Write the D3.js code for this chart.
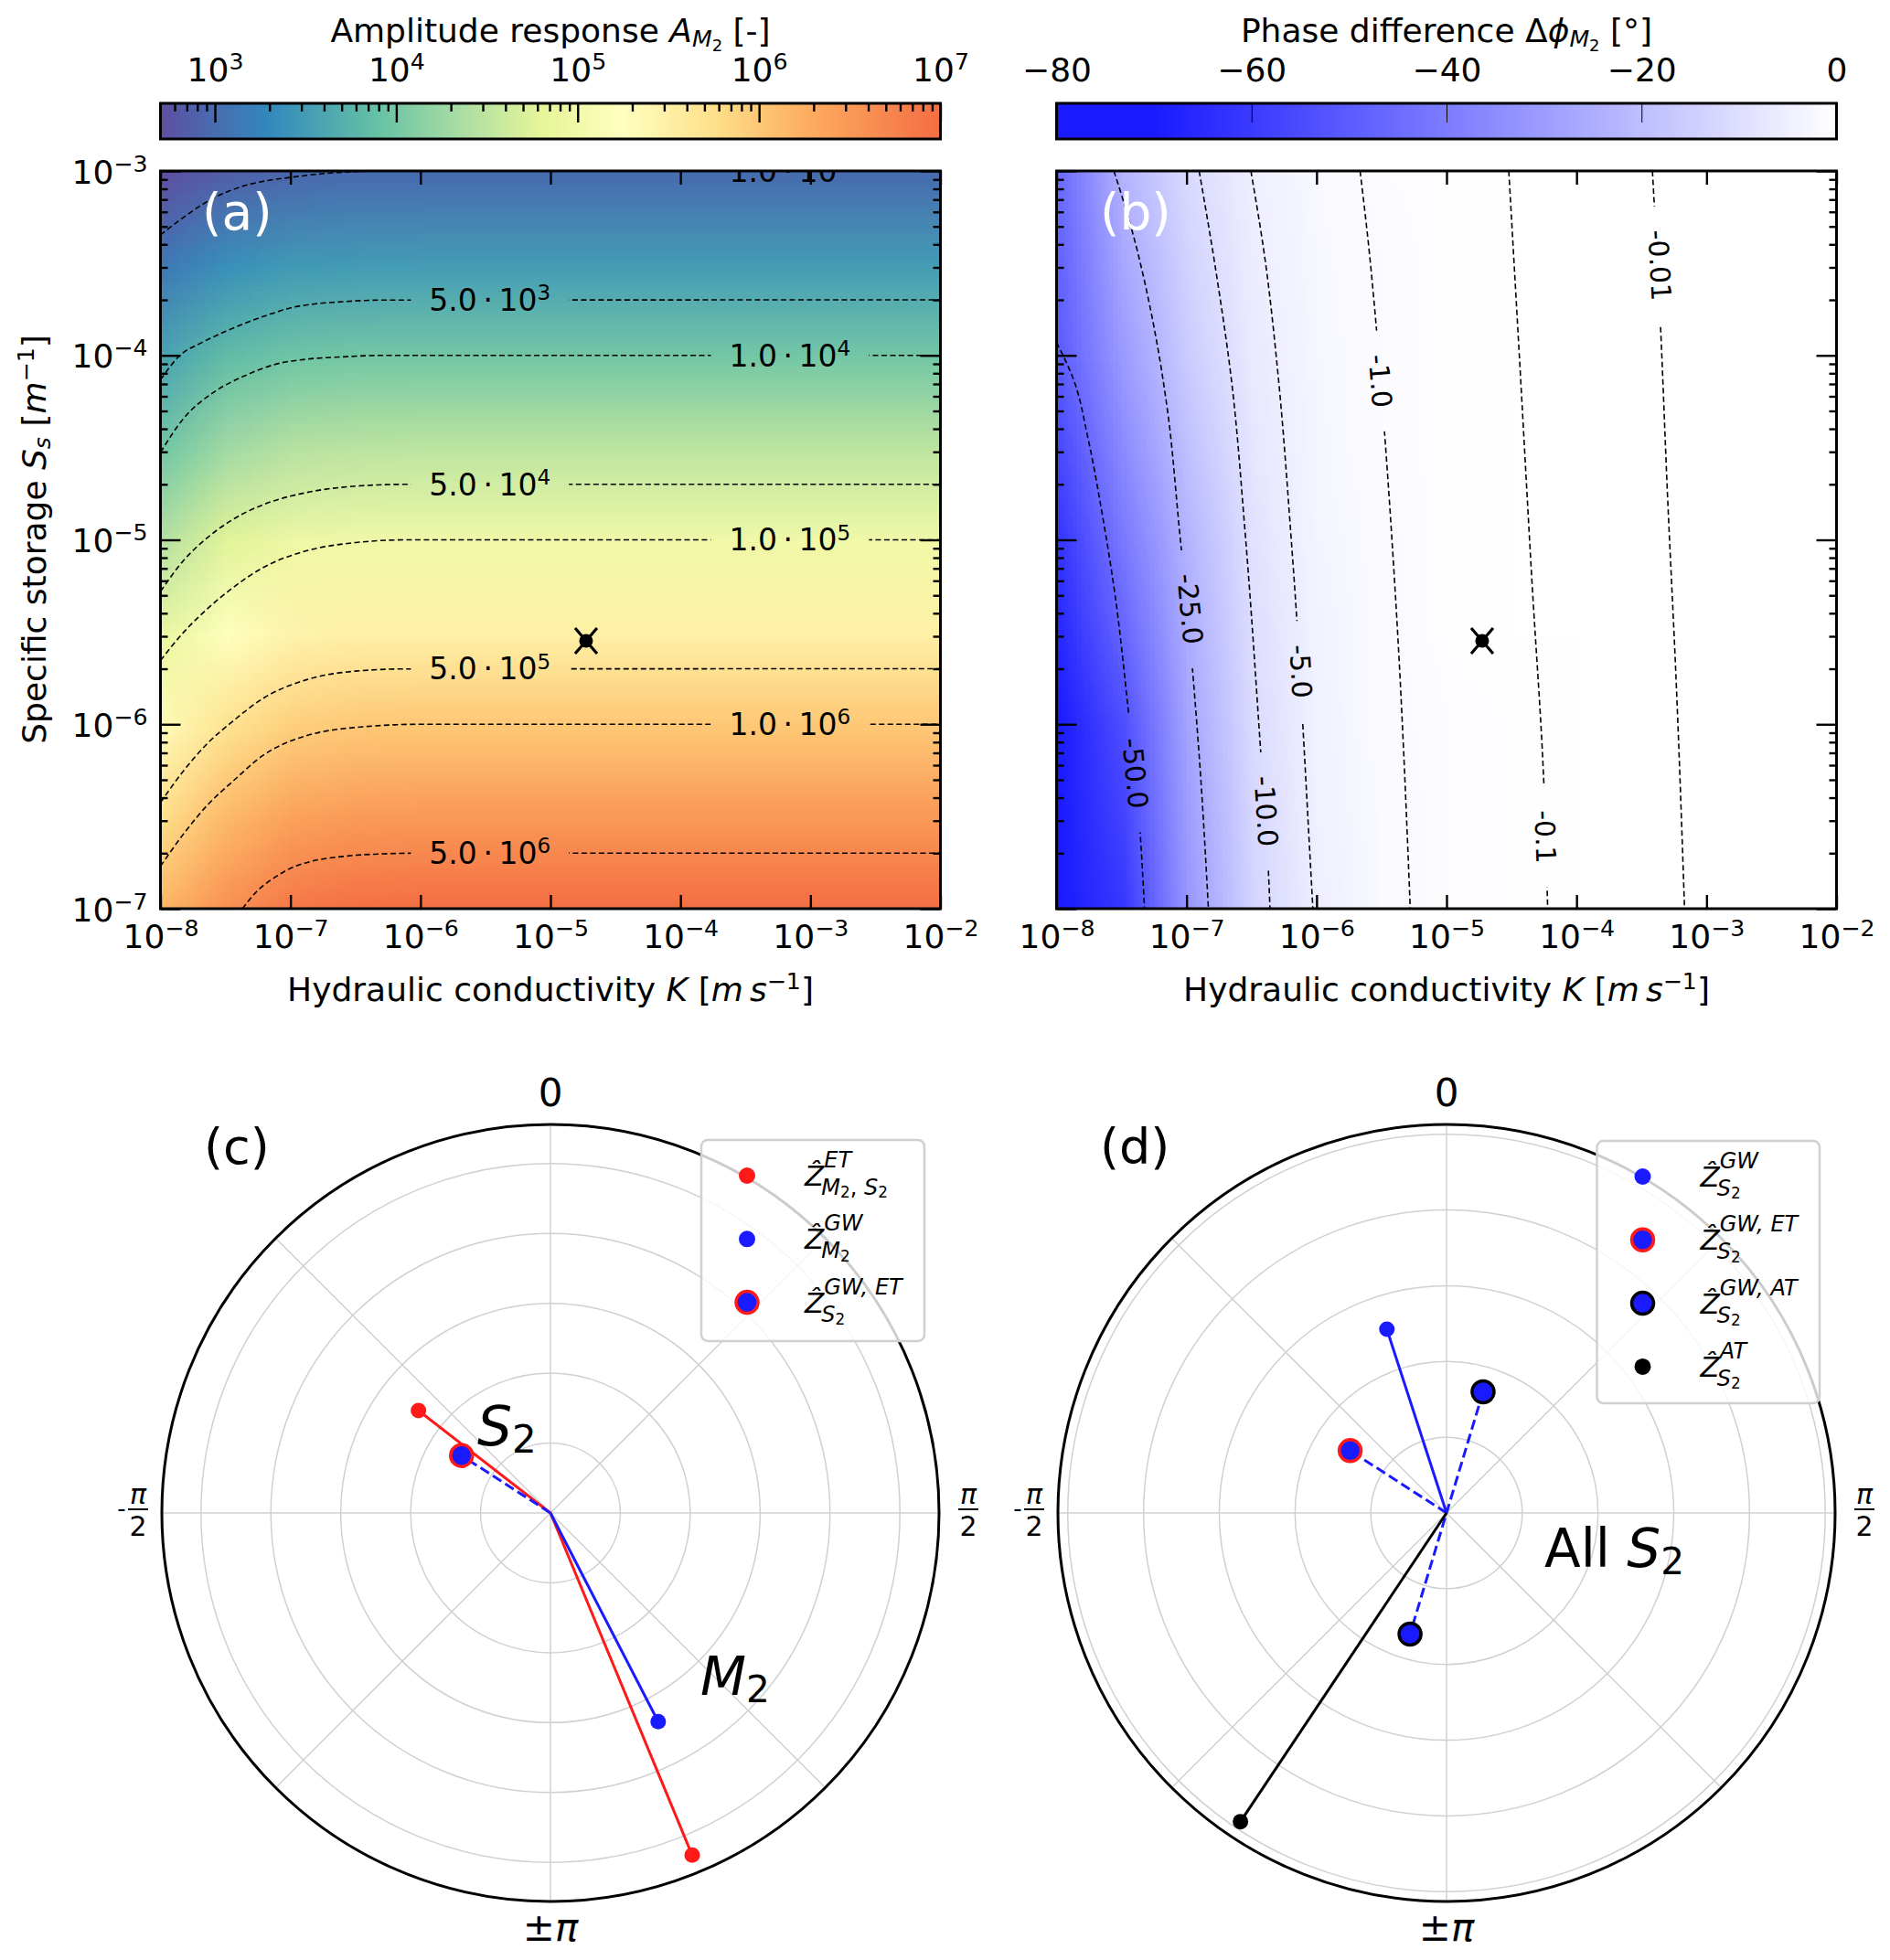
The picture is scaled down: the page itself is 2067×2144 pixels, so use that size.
<!DOCTYPE html>
<html>
<head>
<meta charset="utf-8">
<script src="https://cdn.jsdelivr.net/npm/d3@7"></script>
<style>
  body { margin: 0; background: #fff; }
  svg text { font-family: "DejaVu Sans", sans-serif; white-space: pre; }
</style>
</head>
<body>
<svg id="fig" width="2067" height="2144"></svg>
<script>
const W = 2067, H = 2144
const FS = 36

// ---- map grids (log10 K across, log10 Ss down) ----
const logK = [-8, -7.5, -7, -6.5, -6, -5.5, -5, -4.5, -4, -3.5, -3, -2.5, -2]
const logS = [-3, -3.5, -4, -4.5, -5, -5.5, -6, -6.5, -7]

// log10 of amplitude response, one row per logS value
const logAmp = [
  [2.67, 2.88, 2.965, 2.995, 3.0, 3.0, 3.0, 3.0, 3.0, 3.0, 3.0, 3.0, 3.0],
  [3.13, 3.37, 3.465, 3.495, 3.5, 3.5, 3.5, 3.5, 3.5, 3.5, 3.5, 3.5, 3.5],
  [3.57, 3.85, 3.965, 3.995, 4.0, 4.0, 4.0, 4.0, 4.0, 4.0, 4.0, 4.0, 4.0],
  [3.98, 4.31, 4.46, 4.495, 4.5, 4.5, 4.5, 4.5, 4.5, 4.5, 4.5, 4.5, 4.5],
  [4.44, 4.78, 4.95, 4.992, 5.0, 5.0, 5.0, 5.0, 5.0, 5.0, 5.0, 5.0, 5.0],
  [4.88, 5.24, 5.44, 5.49, 5.5, 5.5, 5.5, 5.5, 5.5, 5.5, 5.5, 5.5, 5.5],
  [5.32, 5.70, 5.92, 5.985, 6.0, 6.0, 6.0, 6.0, 6.0, 6.0, 6.0, 6.0, 6.0],
  [5.77, 6.15, 6.40, 6.48, 6.5, 6.5, 6.5, 6.5, 6.5, 6.5, 6.5, 6.5, 6.5],
  [6.20, 6.60, 6.88, 6.975, 7.0, 7.0, 7.0, 7.0, 7.0, 7.0, 7.0, 7.0, 7.0]
]

// phase difference in degrees, same grid
const phase = [
  [-46, -23, -11.4, -4.97, -1.90, -0.72, -0.26, -0.096, -0.034, -0.012, -0.004, -0.0015, -0.0005],
  [-48, -27, -13.5, -5.6, -2.15, -0.83, -0.29, -0.10, -0.036, -0.013, -0.0045, -0.0016, -0.0006],
  [-50, -30.7, -15.7, -6.4, -2.45, -0.95, -0.32, -0.107, -0.038, -0.014, -0.005, -0.0018, -0.0006],
  [-56, -35.5, -19, -7.6, -2.8, -1.05, -0.355, -0.12, -0.041, -0.0145, -0.005, -0.0018, -0.0007],
  [-62, -41, -22.9, -8.9, -3.19, -1.17, -0.39, -0.13, -0.044, -0.015, -0.005, -0.0019, -0.0007],
  [-66, -47, -25.2, -10, -3.6, -1.27, -0.43, -0.143, -0.048, -0.0165, -0.0055, -0.002, -0.0007],
  [-70, -54, -27.5, -11.1, -4.0, -1.36, -0.46, -0.155, -0.052, -0.018, -0.006, -0.002, -0.0008],
  [-73, -57.5, -29.5, -12.1, -4.4, -1.5, -0.5, -0.168, -0.056, -0.0195, -0.0065, -0.0023, -0.0008],
  [-76, -61, -31.6, -13.1, -4.83, -1.62, -0.54, -0.18, -0.061, -0.021, -0.007, -0.0025, -0.0009]
]

// contour lines, points as [log10 K, log10 Ss]
const ampLevels = [1e3, 5e3, 1e4, 5e4, 1e5, 5e5, 1e6, 5e6]
const ampContours = [
  [[-8, -3.347], [-7.8, -3.24], [-7.6, -3.15], [-7.4, -3.09], [-7.2, -3.055], [-7, -3.035], [-6.8, -3.018], [-6.6, -3.007], [-6.3, -3.0], [-2, -3.0]],
  [[-8, -4.132], [-7.85, -4.0], [-7.68, -3.93], [-7.5, -3.87], [-7.35, -3.826], [-7.15, -3.775], [-6.97, -3.738], [-6.8, -3.72], [-6.64, -3.711], [-6.3, -3.7], [-2, -3.699]],
  [[-8, -4.526], [-7.82, -4.34], [-7.586, -4.198], [-7.35, -4.11], [-7.115, -4.048], [-6.88, -4.021], [-6.6, -4.008], [-6.3, -4.0], [-2, -4.0]],
  [[-8, -5.28], [-7.82, -5.11], [-7.633, -4.985], [-7.444, -4.89], [-7.209, -4.809], [-6.879, -4.744], [-6.5, -4.709], [-6.1, -4.699], [-2, -4.699]],
  [[-8, -5.654], [-7.82, -5.50], [-7.633, -5.37], [-7.444, -5.26], [-7.209, -5.15], [-6.879, -5.06], [-6.5, -5.015], [-6.1, -5.0], [-2, -5.0]],
  [[-8, -6.425], [-7.82, -6.25], [-7.633, -6.10], [-7.444, -5.984], [-7.209, -5.859], [-6.879, -5.759], [-6.5, -5.712], [-6.1, -5.7], [-2, -5.699]],
  [[-8, -6.77], [-7.821, -6.593], [-7.633, -6.434], [-7.444, -6.31], [-7.209, -6.168], [-6.879, -6.062], [-6.408, -6.012], [-6.0, -6.0], [-2, -6.0]],
  [[-7.37, -7.0], [-7.25, -6.9], [-7.12, -6.83], [-7.02, -6.788], [-6.85, -6.745], [-6.6, -6.717], [-6.3, -6.703], [-6, -6.699], [-2, -6.699]]
]
const ampLabelPos = [[-3.158, -3.0], [-5.466, -3.699], [-3.158, -4.0], [-5.466, -4.699],
  [-3.158, -5.0], [-5.466, -5.699], [-3.158, -6.0], [-5.466, -6.699]]

const phaseLevels = [-50, -25, -10, -5, -1, -0.1, -0.01]
const phaseContours = [
  [[-8, -3.93], [-7.875, -4.12], [-7.758, -4.45], [-7.652, -4.847], [-7.55, -5.3], [-7.453, -5.894], [-7.359, -6.571], [-7.324, -7.0]],
  [[-7.559, -3.0], [-7.43, -3.296], [-7.266, -3.79], [-7.149, -4.286], [-7.055, -4.946], [-6.957, -5.68], [-6.89, -6.3], [-6.832, -7.0]],
  [[-6.903, -3.0], [-6.774, -3.543], [-6.657, -4.12], [-6.551, -4.946], [-6.435, -6.092], [-6.372, -6.769], [-6.358, -7.0]],
  [[-6.505, -3.0], [-6.4, -3.46], [-6.294, -4.12], [-6.2, -4.946], [-6.154, -5.407], [-6.107, -5.985], [-6.03, -6.975], [-6.028, -7.0]],
  [[-5.665, -3.0], [-5.6, -3.4], [-5.543, -3.824], [-5.478, -4.407], [-5.379, -5.47], [-5.279, -7.0]],
  [[-4.521, -3.0], [-4.44, -4.0], [-4.345, -5.2], [-4.252, -6.31], [-4.222, -7.0]],
  [[-3.416, -3.0], [-3.355, -3.824], [-3.30, -4.76], [-3.234, -5.757], [-3.169, -7.0]]
]
const phaseLabelPos = [[-7.394, -6.266], [-6.972, -5.375], [-6.387, -6.472], [-6.12, -5.713],
  [-5.509, -4.139], [-4.239, -6.61], [-3.36, -3.512]]

const site = [-4.726, -5.548]

// colour maps and colourbar ticks
const ampStops = [2.70, 3.29, 3.9, 4.36, 4.8, 5.25, 5.75, 6.25, 7.0]
const ampColors = ['#5e4fa2', '#3288bd', '#66c2a5', '#abdda4', '#e6f598', '#ffffbf', '#fee08b', '#fdae61', '#f46d43']
const phaseStops = [-80, -70, 0]
const phaseColors = ['#1a1aff', '#1a1aff', '#ffffff']
const cbAmpTicks = [1e3, 1e4, 1e5, 1e6, 1e7]
const cbPhaseTicks = [-80, -60, -40, -20, 0]
const kTicks = [1e-8, 1e-7, 1e-6, 1e-5, 1e-4, 1e-3, 1e-2]
const sTicks = [1e-7, 1e-6, 1e-5, 1e-4, 1e-3]

// phasors, [theta (rad, clockwise from top), amplitude]
const polarRings = [1, 2, 3, 4, 5]
const rmaxC = 5.56, rmaxD = 5.13
const etS2 = [-0.911, 2.39]
const etM2 = [2.749, 5.30]
const gwM2 = [2.665, 3.36]
const gwEtS2 = [-0.997, 1.515]
const gwS2 = [-0.314, 2.55]
const gwAtS2 = [[0.293, 1.67], [-2.849, 1.67]]
const atS2 = [-2.553, 4.90]

const RED = '#ff1a1a', BLUE = '#1a1aff'

// ---------- helpers ----------
const fig = d3.select('#fig')
const defs = fig.append('defs')

const lvOff = { '0': 0, '1': -0.36, '-1': 0.14, '-2': 0.28 }
const lvSize = { '0': 1, '1': 0.7, '-1': 0.7, '-2': 0.5 }
const mtext = (t, parts, size) => {
  let cur = 0
  parts.forEach(p => {
    const lv = p.l || 0
    const off = lvOff[lv] * size
    t.append('tspan').attr('dy', off - cur).attr('font-size', size * lvSize[lv])
      .attr('font-style', p.i ? 'italic' : null).text(p.t)
    cur = off
  })
  return t
}
const pow10 = (sel, size) => sel.each(function (d) {
  const e = Math.round(Math.log10(d))
  const t = d3.select(this).text(null).attr('font-size', size)
  mtext(t, [{ t: '10' }, { t: (e < 0 ? '\u2212' : '') + Math.abs(e), l: 1 }], size)
})
const clean = g => g.attr('font-size', null).attr('font-family', null).call(s => s.select('.domain').remove())

const boxA = { left: 175.5, top: 187, width: 853, height: 807 }
const boxB = { left: 1155.5, top: 187, width: 853, height: 807 }

const makeScales = box => ({
  x: d3.scaleLog().domain([1e-8, 1e-2]).range([box.left, box.left + box.width]),
  y: d3.scaleLog().domain([1e-3, 1e-7]).range([box.top, box.top + box.height])
})

const drawField = (box, sc, grid, color) => {
  const nx = logK.length, ny = logS.length
  const small = document.createElement('canvas')
  small.width = nx; small.height = ny
  const sctx = small.getContext('2d')
  const img = sctx.createImageData(nx, ny)
  grid.forEach((row, j) => row.forEach((v, i) => {
    const c = d3.rgb(color(v)), k = 4 * (j * nx + i)
    img.data[k] = c.r; img.data[k + 1] = c.g; img.data[k + 2] = c.b; img.data[k + 3] = 255
  }))
  sctx.putImageData(img, 0, 0)
  const big = document.createElement('canvas')
  big.width = Math.round(box.width); big.height = Math.round(box.height)
  const bctx = big.getContext('2d')
  bctx.imageSmoothingEnabled = true
  const x0 = sc.x(10 ** logK[0]) - box.left, x1 = sc.x(10 ** logK[nx - 1]) - box.left
  const y0 = sc.y(10 ** logS[0]) - box.top, y1 = sc.y(10 ** logS[ny - 1]) - box.top
  const cw = (x1 - x0) / (nx - 1), ch = (y1 - y0) / (ny - 1)
  bctx.drawImage(small, 0, 0, nx, ny, x0 - cw / 2, y0 - ch / 2, cw * nx, ch * ny)
  fig.append('image').attr('x', box.left).attr('y', box.top)
    .attr('width', box.width).attr('height', box.height)
    .attr('preserveAspectRatio', 'none').attr('href', big.toDataURL())
}

const drawContours = (id, box, sc, contours, curve, labels) => {
  defs.append('clipPath').attr('id', 'clip' + id).append('rect')
    .attr('x', box.left).attr('y', box.top).attr('width', box.width).attr('height', box.height)
  const mask = defs.append('mask').attr('id', 'mask' + id).attr('maskUnits', 'userSpaceOnUse')
    .attr('x', 0).attr('y', 0).attr('width', W).attr('height', H)
  mask.append('rect').attr('width', W).attr('height', H).attr('fill', '#fff')
  const layer = fig.append('g').attr('clip-path', `url(#clip${id})`)
  const lines = layer.append('g').attr('mask', `url(#mask${id})`)
  const line = d3.line().x(d => sc.x(10 ** d[0])).y(d => sc.y(10 ** d[1])).curve(curve)
  contours.forEach(c => lines.append('path').attr('d', line(c)).attr('fill', 'none')
    .attr('stroke', '#000').attr('stroke-width', 1.6).attr('stroke-dasharray', '6,3.5'))
  labels.forEach(lab => {
    const px = sc.x(10 ** lab.pos[0]), py = sc.y(10 ** lab.pos[1])
    const tr = `translate(${px},${py}) rotate(${lab.rot})`
    const t = layer.append('g').attr('transform', tr).append('text')
      .attr('text-anchor', 'middle').attr('y', 0.36 * lab.size).attr('font-size', lab.size)
    mtext(t, lab.parts, lab.size)
    const bb = t.node().getBBox()
    mask.append('rect').attr('transform', tr).attr('fill', '#000')
      .attr('x', bb.x - lab.pad).attr('y', bb.y - 4).attr('width', bb.width + 2 * lab.pad).attr('height', bb.height + 8)
  })
}

const drawSite = sc => {
  const px = sc.x(10 ** site[0]), py = sc.y(10 ** site[1])
  const g = fig.append('g').attr('stroke', '#000').attr('stroke-width', 3.2)
  g.append('line').attr('x1', px - 12).attr('y1', py - 14).attr('x2', px + 12).attr('y2', py + 14)
  g.append('line').attr('x1', px - 12).attr('y1', py + 14).attr('x2', px + 12).attr('y2', py - 14)
  fig.append('circle').attr('cx', px).attr('cy', py).attr('r', 7.5).attr('fill', '#000')
}

const drawAxes = (box, sc, yLabels) => {
  const bottom = box.top + box.height, right = box.left + box.width
  const minor = []
  sTicks.slice(0, -1).forEach(v => d3.range(2, 10).forEach(m => minor.push(v * m)))

  const gx = fig.append('g').attr('transform', `translate(0,${bottom})`)
    .call(d3.axisBottom(sc.x).tickValues(kTicks).tickSize(-15).tickFormat(() => '')).call(clean)
  gx.selectAll('.tick text').attr('y', 43).attr('dy', null).call(pow10, FS)
  fig.append('g').attr('transform', `translate(0,${box.top})`)
    .call(d3.axisTop(sc.x).tickValues(kTicks).tickSize(-15).tickFormat(() => '')).call(clean)
    .selectAll('.tick text').remove()

  const gy = fig.append('g').attr('transform', `translate(${box.left},0)`)
    .call(d3.axisLeft(sc.y).tickValues(sTicks).tickSize(-22).tickFormat(() => '')).call(clean)
  if (yLabels) gy.selectAll('.tick text').attr('x', -14).attr('dy', null).attr('y', 13).call(pow10, FS)
  else gy.selectAll('.tick text').remove()
  fig.append('g').attr('transform', `translate(${box.left},0)`)
    .call(d3.axisLeft(sc.y).tickValues(minor).tickSize(-8).tickFormat(() => '')).call(clean)
    .selectAll('.tick text').remove()
  fig.append('g').attr('transform', `translate(${right},0)`)
    .call(d3.axisRight(sc.y).tickValues(sTicks).tickSize(-22).tickFormat(() => '')).call(clean)
    .selectAll('.tick text').remove()
  fig.append('g').attr('transform', `translate(${right},0)`)
    .call(d3.axisRight(sc.y).tickValues(minor).tickSize(-8).tickFormat(() => '')).call(clean)
    .selectAll('.tick text').remove()
  fig.selectAll('.tick line').attr('stroke-width', 2.4)

  fig.append('rect').attr('x', box.left).attr('y', box.top).attr('width', box.width).attr('height', box.height)
    .attr('fill', 'none').attr('stroke', '#000').attr('stroke-width', 3)

  mtext(fig.append('text').attr('x', box.left + box.width / 2).attr('y', 1095).attr('text-anchor', 'middle'),
    [{ t: 'Hydraulic conductivity ' }, { t: 'K', i: 1 }, { t: ' [' }, { t: 'm', i: 1 }, { t: '\u2009' },
     { t: 's', i: 1 }, { t: '\u22121', l: 1 }, { t: ']' }], FS).attr('font-size', FS)
}

const drawColorbar = (id, box, stops, colors, title) => {
  const top = 113, h = 39
  const grad = defs.append('linearGradient').attr('id', 'grad' + id)
    .attr('gradientUnits', 'userSpaceOnUse').attr('x1', box.left).attr('x2', box.left + box.width).attr('y1', 0).attr('y2', 0)
  const lo = stops[0], hi = stops[stops.length - 1]
  stops.forEach((s, i) => grad.append('stop').attr('offset', (s - lo) / (hi - lo)).attr('stop-color', colors[i]))
  fig.append('rect').attr('x', box.left).attr('y', top).attr('width', box.width).attr('height', h)
    .attr('fill', `url(#grad${id})`).attr('stroke', '#000').attr('stroke-width', 3)
  const t = fig.append('text').attr('x', box.left + box.width / 2).attr('y', 46).attr('text-anchor', 'middle').attr('font-size', FS)
  mtext(t, title, FS)
  return top
}

// ---------- panel (a) ----------
const scA = makeScales(boxA)
const ampColor = d3.scaleLinear().domain(ampStops).range(ampColors).clamp(true)
drawField(boxA, scA, logAmp, ampColor)
drawContours('a', boxA, scA, ampContours, d3.curveMonotoneX, ampLevels.map((v, i) => {
  const e = Math.floor(Math.log10(v))
  return { pos: ampLabelPos[i], rot: 0, size: 33, pad: 20,
    parts: [{ t: (v / 10 ** e).toFixed(1) + '\u2009\u00b7\u200910' }, { t: String(e), l: 1 }] }
}))
drawSite(scA)
drawAxes(boxA, scA, true)
fig.append('text').attr('x', 221).attr('y', 251).attr('font-size', 55).attr('fill', '#fff').text('(a)')

// colourbar (a)
const cbA = d3.scaleLog().domain([10 ** ampStops[0], 10 ** ampStops[ampStops.length - 1]]).range([boxA.left, boxA.left + boxA.width])
const cbTop = drawColorbar('a', boxA, ampStops, ampColors,
  [{ t: 'Amplitude response ' }, { t: 'A', i: 1 }, { t: 'M', i: 1, l: -1 }, { t: '2', l: -2 }, { t: ' [-]' }])
const cbMinor = []
d3.range(2, 7).forEach(e => d3.range(2, 10).forEach(m => { const v = m * 10 ** e; if (v > cbA.domain()[0]) cbMinor.push(v) }))
fig.append('g').attr('transform', `translate(0,${cbTop})`)
  .call(d3.axisTop(cbA).tickValues(cbMinor).tickSize(-9).tickFormat(() => '')).call(clean)
  .selectAll('.tick text').remove()
fig.append('g').attr('transform', `translate(0,${cbTop})`)
  .call(d3.axisTop(cbA).tickValues(cbAmpTicks).tickSize(-21).tickFormat(() => '')).call(clean)
  .selectAll('.tick text').attr('y', -24).attr('dy', null).call(pow10, FS)

// ---------- panel (b) ----------
const scB = makeScales(boxB)
const phaseColor = d3.scaleLinear().domain(phaseStops).range(phaseColors).clamp(true)
drawField(boxB, scB, phase, phaseColor)
const segAngle = (c, s) => {
  let k = 0
  while (k < c.length - 2 && c[k + 1][1] > s) k++
  const a = c[k], b = c[k + 1]
  const dx = scB.x(10 ** b[0]) - scB.x(10 ** a[0]), dy = scB.y(10 ** b[1]) - scB.y(10 ** a[1])
  return Math.atan2(dy, dx) * 180 / Math.PI
}
drawContours('b', boxB, scB, phaseContours, d3.curveMonotoneY, phaseLevels.map((v, i) => ({
  pos: phaseLabelPos[i], rot: segAngle(phaseContours[i], phaseLabelPos[i][1]), size: 30, pad: 26,
  parts: [{ t: Math.abs(v) >= 1 ? v.toFixed(1) : String(v) }]
})))
drawSite(scB)
drawAxes(boxB, scB, false)
fig.append('text').attr('x', 1203).attr('y', 251).attr('font-size', 55).attr('fill', '#fff').text('(b)')

const cbB = d3.scaleLinear().domain([phaseStops[0], phaseStops[phaseStops.length - 1]]).range([boxB.left, boxB.left + boxB.width])
drawColorbar('b', boxB, phaseStops, phaseColors,
  [{ t: 'Phase difference \u0394' }, { t: '\u03d5', i: 1 }, { t: 'M', i: 1, l: -1 }, { t: '2', l: -2 }, { t: ' [\u00b0]' }])
fig.append('g').attr('transform', `translate(0,${cbTop})`)
  .call(d3.axisTop(cbB).tickValues(cbPhaseTicks).tickSize(-21).tickFormat(d3.format('d'))).call(clean)
  .selectAll('.tick text').attr('y', -24).attr('dy', null).attr('font-size', FS)

// y label
mtext(fig.append('text').attr('transform', 'translate(50,590) rotate(-90)').attr('text-anchor', 'middle'),
  [{ t: 'Specific storage ' }, { t: 'S', i: 1 }, { t: 's', i: 1, l: -1 }, { t: ' [' }, { t: 'm', i: 1 },
   { t: '\u22121', l: 1 }, { t: ']' }], FS)

// ---------- polar panels ----------
const PR = 425, PCY = 1655
const polar = (cx, rmax, tag) => {
  const r = d3.scaleLinear().domain([0, rmax]).range([0, PR])
  const g = fig.append('g').attr('transform', `translate(${cx},${PCY})`)
  polarRings.forEach(v => g.append('circle').attr('r', r(v)).attr('fill', 'none')
    .attr('stroke', '#d0d0d0').attr('stroke-width', 1.5))
  d3.range(8).forEach(i => {
    const [px, py] = d3.pointRadial(i * Math.PI / 4, PR)
    g.append('line').attr('x2', px).attr('y2', py).attr('stroke', '#d0d0d0').attr('stroke-width', 1.5)
  })
  g.append('circle').attr('r', PR).attr('fill', 'none').attr('stroke', '#000').attr('stroke-width', 3)

  // angle labels
  g.append('text').attr('y', -PR - 20).attr('text-anchor', 'middle').attr('font-size', 42).text('0')
  mtext(g.append('text').attr('y', PR + 43).attr('text-anchor', 'middle'), [{ t: '\u00b1' }, { t: '\u03c0', i: 1 }], 42)
  const frac = (x, minus) => {
    if (minus) g.append('text').attr('x', x - 18).attr('y', 4).attr('text-anchor', 'middle').attr('font-size', 26).text('-')
    g.append('text').attr('x', x).attr('y', -10).attr('text-anchor', 'middle').attr('font-size', 30).attr('font-style', 'italic').text('\u03c0')
    g.append('line').attr('x1', x - 11).attr('x2', x + 11).attr('y1', -4).attr('y2', -4).attr('stroke', '#000').attr('stroke-width', 2)
    g.append('text').attr('x', x).attr('y', 25).attr('text-anchor', 'middle').attr('font-size', 30).text('2')
  }
  frac(PR + 32, false)
  frac(-PR - 26, true)
  fig.append('text').attr('x', cx - 379).attr('y', 1273).attr('font-size', 54).text(tag)

  const radial = d3.lineRadial().angle(d => d[0]).radius(d => r(d[1]))
  const ln = (pts, color, dash) => g.append('path').attr('d', radial(pts)).attr('fill', 'none')
    .attr('stroke', color).attr('stroke-width', 3).attr('stroke-dasharray', dash ? '11,5' : null)
  const dot = (p, fill, edge) => {
    const [px, py] = d3.pointRadial(p[0], r(p[1]))
    g.append('circle').attr('cx', px).attr('cy', py).attr('r', edge ? 12 : 8.5).attr('fill', fill)
      .attr('stroke', edge || 'none').attr('stroke-width', edge ? 3.5 : 0)
  }
  return { g, ln, dot }
}

const legend = (x0, y0, w, h, entries) => {
  const g = fig.append('g')
  g.append('rect').attr('x', x0).attr('y', y0).attr('width', w).attr('height', h).attr('rx', 7)
    .attr('fill', '#fff').attr('fill-opacity', 0.8).attr('stroke', '#d0d0d0').attr('stroke-width', 2.5)
  entries.forEach((e, i) => {
    const y = y0 + 39 + i * 69.3, mx = x0 + 50
    g.append('circle').attr('cx', mx).attr('cy', y).attr('r', e.edge ? 12 : 9).attr('fill', e.fill)
      .attr('stroke', e.edge || 'none').attr('stroke-width', e.edge ? 3.5 : 0)
    const tx = x0 + 113, ty = y + 11
    const z = g.append('text').attr('x', tx).attr('y', ty).attr('font-size', 31).attr('font-style', 'italic').text('\u1e90')
    const zw = z.node().getComputedTextLength()
    g.append('text').attr('x', tx + zw).attr('y', ty - 20).attr('font-size', 24).attr('font-style', 'italic').text(e.sup)
    mtext(g.append('text').attr('x', tx + zw - 3).attr('y', ty + 10), e.sub, 24)
  })
}
const S2sub = [{ t: 'S', i: 1 }, { t: '2', l: -1 }]
const M2sub = [{ t: 'M', i: 1 }, { t: '2', l: -1 }]

// (c)
const pc = polar(602, rmaxC, '(c)')
pc.ln([etS2, [0, 0], etM2], RED)
pc.ln([[0, 0], gwM2], BLUE)
pc.ln([[0, 0], gwEtS2], BLUE, true)
pc.dot(etS2, RED); pc.dot(etM2, RED); pc.dot(gwM2, BLUE); pc.dot(gwEtS2, BLUE, RED)
mtext(fig.append('text').attr('x', 522).attr('y', 1581), [{ t: 'S', i: 1 }, { t: '2', l: -1 }], 60)
mtext(fig.append('text').attr('x', 766).attr('y', 1854), [{ t: 'M', i: 1 }, { t: '2', l: -1 }], 58)
legend(767, 1247, 244, 220, [
  { fill: RED, sup: 'ET', sub: [...M2sub, { t: ', ' }, ...S2sub] },
  { fill: BLUE, sup: 'GW', sub: M2sub },
  { fill: BLUE, edge: RED, sup: 'GW, ET', sub: S2sub }
])

// (d)
const pd = polar(1582, rmaxD, '(d)')
pd.ln([[0, 0], gwS2], BLUE)
pd.ln([[0, 0], gwEtS2], BLUE, true)
pd.ln([gwAtS2[0], [0, 0], gwAtS2[1]], BLUE, true)
pd.ln([[0, 0], atS2], '#000')
pd.dot(gwS2, BLUE); pd.dot(gwEtS2, BLUE, RED)
gwAtS2.forEach(p => pd.dot(p, BLUE, '#000'))
pd.dot(atS2, '#000')
mtext(fig.append('text').attr('x', 1689).attr('y', 1714), [{ t: 'All ' }, { t: 'S', i: 1 }, { t: '2', l: -1 }], 58)
legend(1746.5, 1248, 243.5, 287, [
  { fill: BLUE, sup: 'GW', sub: S2sub },
  { fill: BLUE, edge: RED, sup: 'GW, ET', sub: S2sub },
  { fill: BLUE, edge: '#000', sup: 'GW, AT', sub: S2sub },
  { fill: '#000', sup: 'AT', sub: S2sub }
])
</script>
</body>
</html>
